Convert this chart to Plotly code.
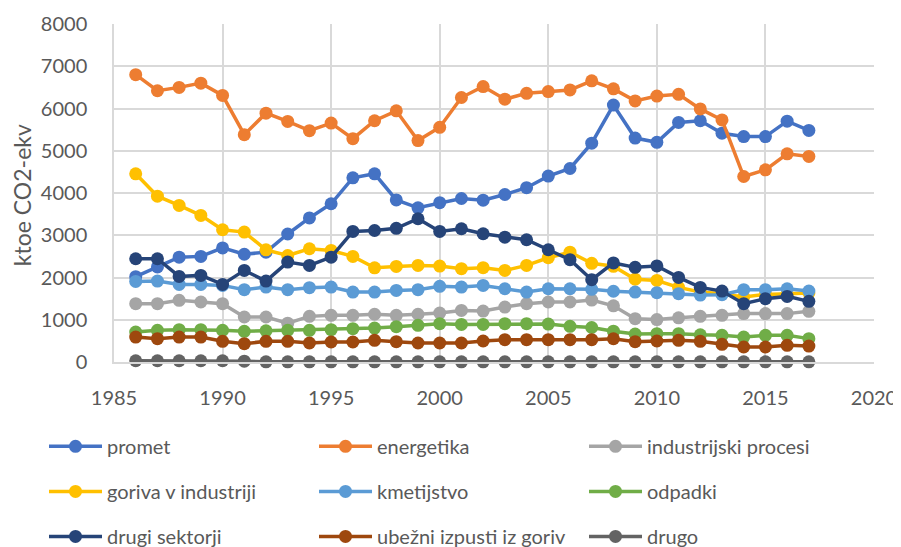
import plotly.graph_objects as go

years = list(range(1986, 2018))

series_names = ["promet", "energetika", "industrijski procesi",
                "goriva v industriji", "kmetijstvo", "odpadki",
                "drugi sektorji", "ubežni izpusti iz goriv", "drugo"]

promet = [2020, 2250, 2480, 2500, 2700, 2550, 2600, 3030, 3410, 3745, 4360, 4455,
          3835, 3650, 3770, 3870, 3830, 3965, 4125, 4400, 4580, 5180, 6080, 5300,
          5200, 5670, 5710, 5415, 5335, 5335, 5700, 5480]
energetika = [6800, 6420, 6500, 6600, 6310, 5380, 5890, 5695, 5475, 5655, 5285, 5710,
              5945, 5240, 5555, 6260, 6520, 6220, 6360, 6400, 6440, 6655, 6465, 6180,
              6295, 6335, 5990, 5730, 4390, 4548, 4927, 4865]
industrijski = [1380, 1380, 1460, 1420, 1380, 1065, 1065, 920, 1080, 1105, 1105, 1130,
                1105, 1130, 1160, 1220, 1205, 1300, 1380, 1420, 1420, 1465, 1330, 1025,
                1005, 1045, 1080, 1105, 1145, 1145, 1145, 1200]
goriva = [4455, 3925, 3705, 3470, 3130, 3075, 2655, 2520, 2680, 2640, 2500, 2230,
          2262, 2286, 2270, 2208, 2232, 2168, 2286, 2468, 2600, 2335, 2265, 1960,
          1930, 1765, 1655, 1617, 1537, 1600, 1617, 1635]
kmetijstvo = [1908, 1915, 1837, 1837, 1813, 1711, 1773, 1711, 1758, 1773, 1655, 1655,
              1695, 1711, 1790, 1773, 1813, 1734, 1655, 1734, 1734, 1720, 1675, 1655,
              1640, 1617, 1585, 1593, 1711, 1711, 1734, 1679]
odpadki = [709, 749, 765, 765, 749, 725, 740, 749, 749, 765, 789, 804,
           836, 868, 907, 889, 889, 907, 907, 897, 844, 816, 729, 663,
           671, 671, 643, 631, 591, 631, 631, 553]
drugi = [2444, 2444, 2026, 2050, 1837, 2168, 1915, 2364, 2286, 2482, 3090, 3113,
         3165, 3390, 3090, 3154, 3035, 2955, 2893, 2657, 2421, 1948, 2345, 2240,
         2274, 2002, 1765, 1679, 1380, 1499, 1553, 1435]
ubezni = [591, 552, 591, 591, 489, 434, 489, 489, 450, 473, 473, 513,
          480, 450, 450, 450, 497, 529, 529, 529, 529, 529, 550, 480,
          497, 513, 490, 418, 355, 355, 395, 378]
drugo = [30, 30, 30, 30, 30, 20, 5, 5, 5, 5, 5, 5,
         5, 5, 5, 5, 5, 5, 5, 5, 5, 5, 5, 5,
         5, 5, 5, 5, 5, 5, 5, 5]

y_title = "ktoe CO2-ekv"
x_ticks = [1985, 1990, 1995, 2000, 2005, 2010, 2015, 2020]
y_ticks = [0, 1000, 2000, 3000, 4000, 5000, 6000, 7000, 8000]

values = [promet, energetika, industrijski, goriva, kmetijstvo, odpadki, drugi, ubezni, drugo]
colors = ["#4472C4", "#ED7D31", "#A5A5A5", "#FFC000", "#5B9BD5", "#70AD47",
          "#264478", "#9E480E", "#636363"]
legends = ["legend", "legend", "legend", "legend2", "legend2", "legend2",
           "legend3", "legend3", "legend3"]

FONT = "Lato"
TXT = "#595959"
GRID = "#D9D9D9"

# the page body adds an 8px offset; compensate in figure size/margins
OFF = 8
W, H = 901 - OFF, 547 - OFF

fig = go.Figure()
for name, vals, col, lg in zip(series_names, values, colors, legends):
    fig.add_trace(go.Scatter(
        x=years, y=vals, name=name, mode="lines+markers",
        line=dict(color=col, width=3.5),
        marker=dict(color=col, size=13),
        cliponaxis=False, legend=lg,
    ))

plot_left, plot_right = 114, 874
plot_top, plot_bottom = 24, 361.7
pw = plot_right - plot_left
ph = plot_bottom - plot_top


def ypaper(py):
    return (plot_bottom - py) / ph


def xpaper(px):
    return (px - plot_left) / pw


leg_common = dict(orientation="h", xanchor="left", yanchor="middle",
                  x=xpaper(44), entrywidth=202, entrywidthmode="pixels",
                  font=dict(family=FONT, size=20, color=TXT),
                  bgcolor="rgba(0,0,0,0)", itemwidth=53, tracegroupgap=0)

fig.update_layout(
    width=W, height=H,
    template="none",
    paper_bgcolor="white", plot_bgcolor="white",
    margin=dict(l=plot_left - OFF, r=(901 - plot_right), t=plot_top - OFF,
                b=H - (plot_bottom - OFF), pad=0, autoexpand=False),
    font=dict(family=FONT, size=20, color=TXT),
    showlegend=True,
    legend=dict(y=ypaper(446), **leg_common),
    legend2=dict(y=ypaper(491), **leg_common),
    legend3=dict(y=ypaper(536), **leg_common),
    xaxis=dict(range=[1985, 2020], tickvals=x_ticks, ticktext=[str(v) for v in x_ticks],
               showgrid=True, gridcolor=GRID, gridwidth=1.5,
               showline=True, linecolor=GRID, linewidth=1.5,
               zeroline=False, ticks="", ticklabelstandoff=17,
               tickfont=dict(family=FONT, size=20, color=TXT), automargin=False),
    yaxis=dict(range=[0, 8000], tickvals=y_ticks, ticktext=[str(v) for v in y_ticks],
               showgrid=True, gridcolor=GRID, gridwidth=1.5,
               showline=True, linecolor=GRID, linewidth=1.5,
               zeroline=False, ticks="", ticklabelstandoff=21,
               tickfont=dict(family=FONT, size=20, color=TXT),
               automargin=False),
    annotations=[dict(text=y_title, xref="paper", yref="paper",
                      x=xpaper(22), y=ypaper(195), xanchor="center", yanchor="middle",
                      textangle=-90, showarrow=False,
                      font=dict(family=FONT, size=23, color=TXT))],
)

fig.write_html("out.html")
